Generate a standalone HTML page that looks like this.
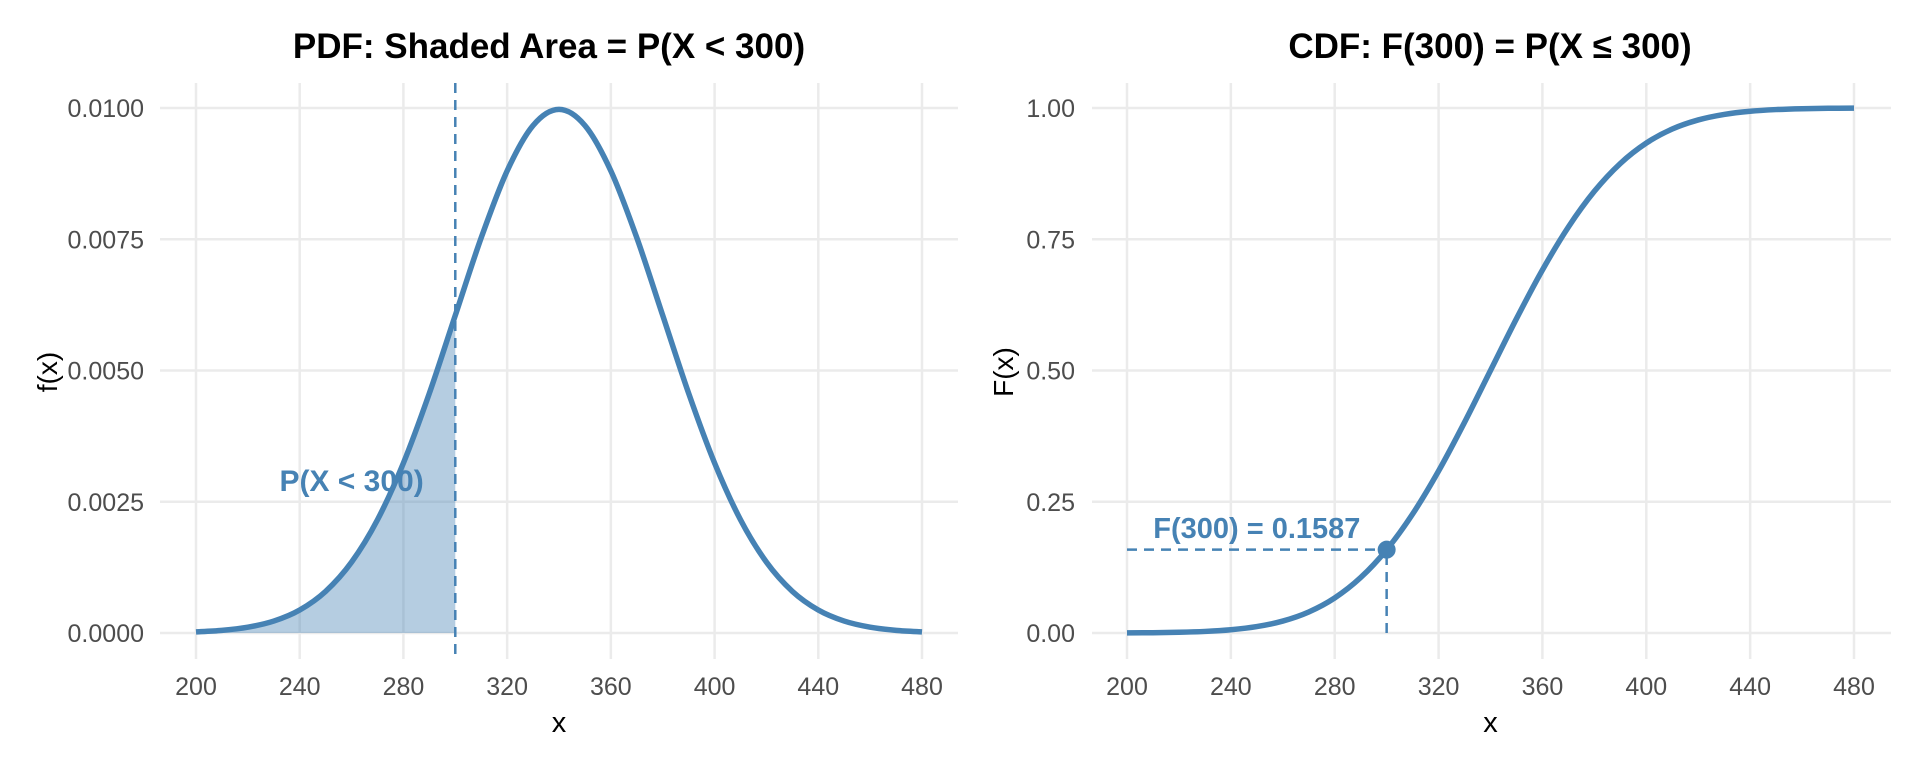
<!DOCTYPE html>
<html><head><meta charset="utf-8"><style>
html,body{margin:0;padding:0;background:#fff;}
svg text{font-family:"Liberation Sans",sans-serif;}
</style></head><body>
<svg id="chart" width="1920" height="768" viewBox="0 0 1920 768" xmlns="http://www.w3.org/2000/svg"></svg>
<script>
const xValues = [200,210,220,230,240,250,260,270,280,290,300,310,320,330,340,350,360,370,380,390,400,410,420,430,440,450,460,470,480];
const pdfValues = [0.0000218,0.0000507,0.0001108,0.0002273,0.0004382,0.0007935,0.0013499,0.0021571,0.0032380,0.0045664,0.0060495,0.0075288,0.0088021,0.0096671,0.0099736,0.0096671,0.0088021,0.0075288,0.0060495,0.0045664,0.0032380,0.0021571,0.0013499,0.0007935,0.0004382,0.0002273,0.0001108,0.0000507,0.0000218];
const cdfValues = [0.000233,0.000577,0.00135,0.00298,0.00621,0.01222,0.02275,0.04006,0.06681,0.10565,0.15866,0.22663,0.30854,0.40129,0.5,0.59871,0.69146,0.77337,0.84134,0.89435,0.93319,0.95994,0.97725,0.98778,0.99379,0.99702,0.99865,0.999423,0.999767];
const xTicks = [200,240,280,320,360,400,440,480];
const pdfTicks = [0,0.0025,0.005,0.0075,0.01];
const pdfTickLabels = ["0.0000","0.0025","0.0050","0.0075","0.0100"];
const cdfTicks = [0,0.25,0.5,0.75,1];
const cdfTickLabels = ["0.00","0.25","0.50","0.75","1.00"];
const cutoff = [300];
const cutoffCdf = [0.1587];
const pdfLabelPos = [260,0.0029];
const cdfLabelPos = [250,0.2];

const svg = document.getElementById('chart');
const NS = 'http://www.w3.org/2000/svg';
const BLUE = '#4682B4';
function mk(tag, attrs, parent){const e=document.createElementNS(NS,tag);for(const k in attrs)e.setAttribute(k,attrs[k]);(parent||svg).appendChild(e);return e;}
function smooth(pts){let d='M'+pts[0][0]+','+pts[0][1];for(let i=0;i<pts.length-1;i++){const p0=pts[i-1]||pts[i],p1=pts[i],p2=pts[i+1],p3=pts[i+2]||p2;const c1x=p1[0]+(p2[0]-p0[0])/6,c1y=p1[1]+(p2[1]-p0[1])/6,c2x=p2[0]-(p3[0]-p1[0])/6,c2y=p2[1]-(p3[1]-p1[1])/6;d+=' C'+c1x+','+c1y+' '+c2x+','+c2y+' '+p2[0]+','+p2[1];}return d;}

function panel(cfg){
  const g = mk('g',{});
  
  
  const X = v => cfg.x0 + (v-200)/(480-200)*(cfg.x1-cfg.x0);
  const Y = v => 633 - v/cfg.ymax*(633-108);
  cfg.yt.forEach((t,i)=>{
    const l=mk('line',{x1:cfg.gx0,x2:cfg.gx1,y1:Y(t),y2:Y(t),stroke:'#ebebeb','stroke-width':2.5},g);
    
    
    const tx=mk('text',{x:cfg.lblx,y:Y(t)+9,'text-anchor':'end','font-size':25,fill:'#4d4d4d'},g);
    tx.textContent=cfg.ytl[i];
    
    
  });
  xTicks.forEach(t=>{
    const l=mk('line',{x1:X(t),x2:X(t),y1:83,y2:659,stroke:'#ebebeb','stroke-width':2.5},g);
    
    
    const tx=mk('text',{x:X(t),y:695,'text-anchor':'middle','font-size':25,fill:'#4d4d4d'},g);
    tx.textContent=t;
    
    
  });
  const pts = xValues.map((x,i)=>[X(x),Y(cfg.vals[i])]);
  cfg.extra(g,X,Y,pts);
  const line=mk('path',{d:smooth(pts),fill:'none',stroke:BLUE,'stroke-width':5.5,'stroke-linejoin':'round'},g);
  
  
  cfg.after(g,X,Y);
  const t=mk('text',{x:cfg.tx,y:58,'text-anchor':'middle','font-size':35,'font-weight':'bold',fill:'#000'},g);
  t.textContent=cfg.title;
  
  
  const xa=mk('text',{x:(cfg.x0+cfg.x1)/2,y:732,'text-anchor':'middle','font-size':29,fill:'#000'},g);
  xa.textContent='x';
  
  
  const ya=mk('text',{x:cfg.yax,y:372,'text-anchor':'middle','font-size':28,fill:'#000',transform:'rotate(-90 '+cfg.yax+' 372)'},g);
  ya.textContent=cfg.ytitle;
  
  
}

panel({name:'pdf-panel',x0:196,x1:922,gx0:160,gx1:958,ymax:0.01,yt:pdfTicks,ytl:pdfTickLabels,lblx:144,vals:pdfValues,
  lineName:'pdf-curve',title:'PDF: Shaded Area = P(X < 300)',tx:549,ytitle:'f(x)',yax:57,
  extra:(g,X,Y,pts)=>{
    const idx = xValues.indexOf(cutoff[0]);
    const sub = pts.slice(0,idx+1);
    const d = smooth(sub)+' L'+X(cutoff[0])+','+Y(0)+' L'+X(200)+','+Y(0)+' Z';
    const a=mk('path',{d:d,fill:BLUE,'fill-opacity':0.4},g);
    
    
  },
  after:(g,X,Y)=>{
    const v=mk('line',{x1:X(cutoff[0]),x2:X(cutoff[0]),y1:83,y2:659,stroke:BLUE,'stroke-width':2.5,'stroke-dasharray':'10,7'},g);
    
    
    const t=mk('text',{x:X(pdfLabelPos[0]),y:Y(pdfLabelPos[1])+10,'text-anchor':'middle','font-size':30,'font-weight':'bold',fill:BLUE},g);
    t.textContent='P(X < 300)';
    
    
  }});

panel({name:'cdf-panel',x0:1127,x1:1854,gx0:1092,gx1:1891,ymax:1,yt:cdfTicks,ytl:cdfTickLabels,lblx:1075,vals:cdfValues,
  lineName:'cdf-curve',title:'CDF: F(300) = P(X ≤ 300)',tx:1490,ytitle:'F(x)',yax:1013,
  extra:()=>{},
  after:(g,X,Y)=>{
    const h=mk('line',{x1:X(200),x2:X(cutoff[0]),y1:Y(cutoffCdf[0]),y2:Y(cutoffCdf[0]),stroke:BLUE,'stroke-width':2.5,'stroke-dasharray':'10,7'},g);
    
    
    const v=mk('line',{x1:X(cutoff[0]),x2:X(cutoff[0]),y1:Y(0),y2:Y(cutoffCdf[0]),stroke:BLUE,'stroke-width':2.5,'stroke-dasharray':'10,7'},g);
    
    
    const c=mk('circle',{cx:X(cutoff[0]),cy:Y(cutoffCdf[0]),r:9,fill:BLUE},g);
    
    
    const t=mk('text',{x:X(cdfLabelPos[0]),y:Y(cdfLabelPos[1])+10,'text-anchor':'middle','font-size':29,'font-weight':'bold',fill:BLUE},g);
    t.textContent='F(300) = 0.1587';
    
    
  }});
</script>
</body></html>
